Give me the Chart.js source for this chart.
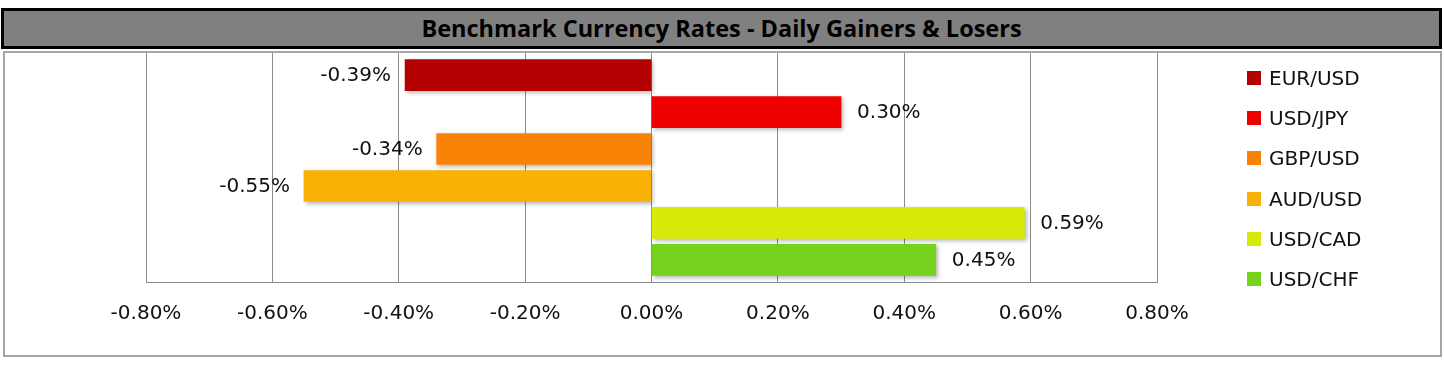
<!DOCTYPE html>
<html>
<head>
<meta charset="utf-8">
<script src="https://cdn.jsdelivr.net/npm/chart.js@4.4.1/dist/chart.umd.min.js"></script>
<style>
    html, body { margin: 0; padding: 0; background: #fff; }
    #wrap { position: relative; width: 1444px; height: 367px; overflow: hidden; }
    #title {
        position: absolute; left: 1px; top: 8px; width: 1435px; height: 35px;
        background: #808080; border: 3px solid #000;
        text-align: center; line-height: 35px;
        font-family: 'Open Sans', sans-serif;
        font-weight: bold; font-size: 23.5px; color: #000;
    }
    #frame {
        position: absolute; left: 3px; top: 51px; width: 1435px; height: 302px;
        border: 2px solid #a6a6a6;
    }
    #chart { position: absolute; left: 0; top: 0; }
    #legend { position: absolute; left: 1247px; top: 65.5px; font-family: 'DejaVu Sans', sans-serif; }
    .item { height: 40.4px; display: flex; align-items: flex-start; font-size: 20px; line-height: 24px; color: #111; }
    .item span.box { display: inline-block; width: 14px; height: 14px; margin-top: 5px; margin-right: 8px; }
</style>
</head>
<body>
<div id="wrap">
    <div id="frame"></div>
    <div id="title">Benchmark Currency Rates - Daily Gainers &amp; Losers</div>
    <canvas id="chart" width="1444" height="367"></canvas>
    <div id="legend"></div>
</div>
<script>
    // data (percent change)
    const pairs = ['EUR/USD', 'USD/JPY', 'GBP/USD', 'AUD/USD', 'USD/CAD', 'USD/CHF'];
    const changes = [-0.39, 0.30, -0.34, -0.55, 0.59, 0.45];
    const pairColors = ['#b30000', '#ee0000', '#f98306', '#f8b104', '#d8eb08', '#76d31d'];
    const tickValues = [-0.8, -0.6, -0.4, -0.2, 0, 0.2, 0.4, 0.6, 0.8];

    const FONT = "'DejaVu Sans', sans-serif";

    // one dataset per pair, each sitting on its own row
    const datasets = pairs.map(function(p, i) {
        return {
            label: p,
            data: [{ x: changes[i], y: i }],
            backgroundColor: pairColors[i],
            borderWidth: 0,
            barThickness: 31
        };
    });

    // soft drop shadow under the bars
    const shadowPlugin = {
        id: 'barShadow',
        beforeDatasetsDraw(chart) {
            const ctx = chart.ctx;
            ctx.save();
            ctx.shadowColor = 'rgba(0,0,0,0.28)';
            ctx.shadowBlur = 4;
            ctx.shadowOffsetX = 2;
            ctx.shadowOffsetY = 2;
        },
        afterDatasetsDraw(chart) {
            chart.ctx.restore();
        }
    };

    // value labels at bar ends
    const labelPlugin = {
        id: 'valueLabels',
        afterDatasetsDraw(chart) {
            const ctx = chart.ctx;
            ctx.save();
            ctx.font = '20px ' + FONT;
            ctx.fillStyle = '#111';
            ctx.textBaseline = 'middle';
            chart.data.datasets.forEach(function(ds, i) {
                const bar = chart.getDatasetMeta(i).data[0];
                const v = changes[i];
                const txt = v.toFixed(2) + '%';
                if (v < 0) {
                    ctx.textAlign = 'right';
                    ctx.fillText(txt, bar.x - 14, bar.y + 1);
                } else {
                    ctx.textAlign = 'left';
                    ctx.fillText(txt, bar.x + 16, bar.y + 1);
                }
            });
            ctx.restore();
        }
    };

    new Chart(document.getElementById('chart'), {
        type: 'bar',
        data: { datasets: datasets },
        options: {
            indexAxis: 'y',
            responsive: false,
            animation: false,
            layout: { padding: { left: 146, right: 287, top: 53, bottom: 0 } },
            plugins: {
                legend: { display: false },
                tooltip: { enabled: false }
            },
            scales: {
                x: {
                    type: 'linear',
                    min: tickValues[0],
                    max: tickValues[tickValues.length - 1],
                    afterBuildTicks(scale) {
                        scale.ticks = tickValues.map(v => ({ value: v }));
                    },
                    afterFit(scale) { scale.height = 85; },
                    grid: { color: '#8c8c8c', lineWidth: 1, drawTicks: false },
                    border: { color: '#8c8c8c', width: 1 },
                    ticks: {
                        padding: 20,
                        color: '#111',
                        font: { family: FONT, size: 20 },
                        callback: v => v.toFixed(2) + '%'
                    }
                },
                y: {
                    type: 'linear',
                    reverse: true,
                    stacked: true,
                    offset: false,
                    min: -0.6,
                    max: pairs.length - 0.4,
                    display: false
                }
            }
        },
        plugins: [shadowPlugin, labelPlugin]
    });

    // legend
    const legend = document.getElementById('legend');
    pairs.forEach(function(p, i) {
        const row = document.createElement('div');
        row.className = 'item';
        row.innerHTML = '<span class="box" style="background:' + pairColors[i] + '"></span>' + p;
        legend.appendChild(row);
    });
</script>
</body>
</html>
